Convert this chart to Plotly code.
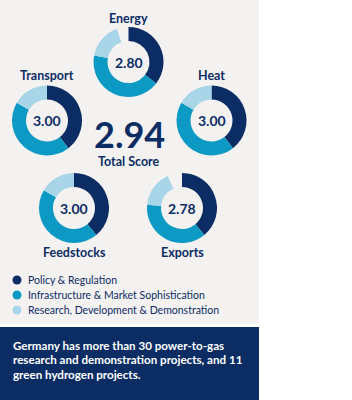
import plotly.graph_objects as go

W, H = 352, 400

pillars = ["Policy & Regulation", "Infrastructure & Market Sophistication",
           "Research, Development & Demonstration"]
sectors = ["Energy", "Transport", "Heat", "Feedstocks", "Exports"]
scores = [2.80, 3.00, 3.00, 3.00, 2.78]
policy_share = [35.5, 39.5, 39.5, 39.0, 39.0]
infra_share = [42.5, 44.0, 44.0, 44.5, 37.5]
rdd_share = [16.5, 16.5, 16.5, 16.5, 16.8]
total_score = 2.94
note_lines = ["Germany has more than 30 power-to-gas",
              "research and demonstration projects, and 11",
              "green hydrogen projects."]

NAVY = "#0b2d64"
TEAL = "#0c99c3"
LIGHT = "#a9d5e9"
PANEL = "#f4f1f1"
colors = [NAVY, TEAL, LIGHT, "rgba(0,0,0,0)"]
FONT = "Lato"

# donut centres (px) and radius
centers = {"Energy": (128.5, 62), "Transport": (47, 120.5), "Heat": (211.5, 120.5),
           "Feedstocks": (74, 208), "Exports": (182, 208)}
label_y = {"Energy": 18, "Transport": 75, "Heat": 75, "Feedstocks": 253, "Exports": 253}
R = 35

def px(x):
    return x / W

def py(y):
    return 1 - y / H

fig = go.Figure()
annotations = []
for i, s in enumerate(sectors):
    cx, cy = centers[s]
    gap = max(0.0, 100 - policy_share[i] - infra_share[i] - rdd_share[i])
    fig.add_trace(go.Pie(
        values=[policy_share[i], infra_share[i], rdd_share[i], gap],
        labels=pillars + ["gap"],
        marker=dict(colors=colors, line=dict(width=0)),
        hole=0.6, sort=False, direction="clockwise", rotation=0,
        textinfo="none", hoverinfo="skip", showlegend=False,
        domain=dict(x=[px(cx - R), px(cx + R)], y=[py(cy + R), py(cy - R)]),
    ))
    annotations.append(dict(x=px(cx), y=py(cy), text=f"<b>{scores[i]:.2f}</b>",
                            font=dict(size=14, color=NAVY, family=FONT)))
    annotations.append(dict(x=px(cx), y=py(label_y[s]), text=f"<b>{s}</b>",
                            font=dict(size=12.5, color=NAVY, family=FONT)))

annotations.append(dict(x=px(129.5), y=py(133.5), text=f"<b>{total_score:.2f}</b>",
                        font=dict(size=36, color=NAVY, family=FONT)))
annotations.append(dict(x=px(129), y=py(161.5), text="<b>Total Score</b>",
                        font=dict(size=12.5, color=NAVY, family=FONT)))

shapes = [
    dict(type="rect", xref="paper", yref="paper", x0=0, x1=px(259), y0=py(324), y1=1,
         fillcolor=PANEL, line=dict(width=0), layer="below"),
    dict(type="rect", xref="paper", yref="paper", x0=0, x1=px(259), y0=0, y1=py(327),
         fillcolor=NAVY, line=dict(width=0), layer="below"),
]
for k, p in enumerate(pillars):
    yy = 280 + 15 * k
    shapes.append(dict(type="circle", xref="paper", yref="paper",
                       x0=px(12.5), x1=px(21.5), y0=py(yy + 4.5), y1=py(yy - 4.5),
                       fillcolor=colors[k], line=dict(width=0)))
    annotations.append(dict(x=px(25.5), y=py(yy), text=p, xanchor="left",
                            font=dict(size=10.5, color=NAVY, family=FONT)))

for k, line in enumerate(note_lines):
    annotations.append(dict(x=px(11), y=py(345 + 14.5 * k), text=f"<b>{line}</b>",
                            xanchor="left",
                            font=dict(size=11.6, color="white", family=FONT)))

for a in annotations:
    a.update(xref="paper", yref="paper", showarrow=False)
    a.setdefault("xanchor", "center")
    a.setdefault("yanchor", "middle")

fig.update_layout(width=W, height=H, margin=dict(l=0, r=0, t=0, b=0),
                  paper_bgcolor="white", plot_bgcolor="white",
                  annotations=annotations, shapes=shapes, showlegend=False)
fig.write_html("out.html")
